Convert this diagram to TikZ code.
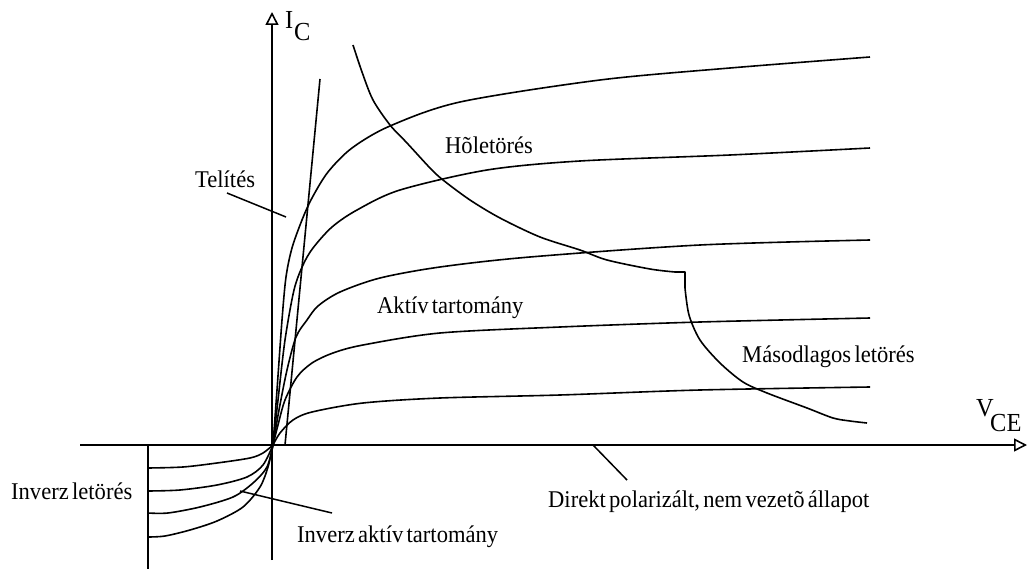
\documentclass[tikz,border=0pt]{standalone}
\usepackage{fontspec}
\setmainfont{Liberation Serif}[FakeStretch=0.94,WordSpace=0.6]
\usetikzlibrary{arrows.meta}
\begin{document}
\begin{tikzpicture}[x=1pt,y=-1pt,
  axisline/.style={line width=1.7pt,-{Triangle[open,length=13pt,width=13pt,line width=1.6pt]}},
  curve/.style={line width=1.6pt,line join=round},
  leader/.style={line width=1.5pt},
  lbl/.style={inner sep=0pt,anchor=base west,font=\fontsize{24}{27}\selectfont},
  axlbl/.style={inner sep=0pt,anchor=base west,font=\fontsize{26}{29}\selectfont}]
\useasboundingbox (0,0) rectangle (1032,569);
% axes
\coordinate (O) at (273,445);
\coordinate (ybot) at (272,560);
\coordinate (ytop) at (272,12);
\coordinate (xleft) at (80,445);
\coordinate (xright) at (1027,445);
\coordinate (vlt) at (148,445);
\coordinate (vlb) at (148,569);
\draw[axisline] (ybot) -- (ytop);
\draw[axisline] (xleft) -- (xright);
\draw[curve] (vlt) -- (vlb);
% axis labels
\node[axlbl] (I) at (285,29) {I};
\node[axlbl] (Isub) at (294,41) {C};
\node[axlbl] (V) at (976,416) {V};
\node[axlbl] (Vsub) at (990,431) {CE};
% saturation line
\coordinate (satb) at (285,445);
\coordinate (satt) at (320,79);
\draw[curve] (satb) -- (satt);
% output characteristics
\draw[curve] plot[smooth,tension=0.5] coordinates {(O) (277,390) (282,320) (286,277) (292,248) (302,220) (312,198) (328,172) (352,148) (390,126) (460,102) (600,80) (730,68) (870,57)};
\draw[curve] plot[smooth,tension=0.5] coordinates {(O) (278,400) (285,340) (294,290) (303,265) (313,248) (332,227) (357,210) (400,190) (487,170) (580,161) (730,155) (870,148)};
\draw[curve] plot[smooth,tension=0.5] coordinates {(O) (279,410) (287,370) (296,337) (307,320) (318,306) (340,292) (380,278) (440,267) (530,257) (700,245) (870,240)};
\draw[curve] plot[smooth,tension=0.5] coordinates {(O) (278,425) (285,400) (297,377) (312,363) (333,353) (363,345) (440,333) (560,327) (700,322) (870,318)};
\draw[curve] plot[smooth,tension=0.5] coordinates {(O) (280,433) (293,420) (312,412) (363,403) (440,398) (560,395) (700,390) (870,387)};
% breakdown curve
\draw[curve] plot[smooth,tension=0.5] coordinates {(353,45) (362,72) (373,100) (390,125) (407,143) (430,168) (443,180) (470,200) (500,218) (540,237) (580,250) (607,260) (650,269) (675,272)} -- (685,272) -- plot[smooth,tension=0.5] coordinates {(685,288) (689,315) (700,340) (720,363) (743,382) (767,393) (807,408) (833,418) (850,421) (867,423)};
% inverse characteristics
\draw[curve] plot[smooth,tension=0.5] coordinates {(148,468) (183,467) (217,463) (250,458) (263,453) (O)};
\draw[curve] plot[smooth,tension=0.5] coordinates {(148,491) (180,490) (217,485) (247,477) (263,465) (O)};
\draw[curve] plot[smooth,tension=0.5] coordinates {(148,513) (168,513) (200,507) (233,497) (253,483) (267,467) (O)};
\draw[curve] plot[smooth,tension=0.5] coordinates {(148,537) (165,536) (190,530) (217,521) (243,507) (260,487) (268,467) (O)};
% labels
\node[lbl] (tel) at (195,188) {Telítés};
\node[lbl] (hol) at (445,154) {Hõletörés};
\node[lbl] (akt) at (377,313) {Aktív tartomány};
\node[lbl] (mas) at (742,362) {Másodlagos letörés};
\node[lbl] (invl) at (11,499) {Inverz letörés};
\node[lbl] (inva) at (297,542) {Inverz aktív tartomány};
\node[lbl] (dir) at (548,507) {Direkt polarizált, nem vezetõ állapot};
% leaders
\coordinate (telA) at (227,193);
\coordinate (telB) at (286,217);
\draw[leader] (telA) -- (telB);
\coordinate (invA) at (240,491);
\coordinate (invB) at (332,513);
\draw[leader] (invA) -- (invB);
\coordinate (dirA) at (593,445);
\coordinate (dirB) at (627,480);
\draw[leader] (dirA) -- (dirB);
\end{tikzpicture}
\end{document}
